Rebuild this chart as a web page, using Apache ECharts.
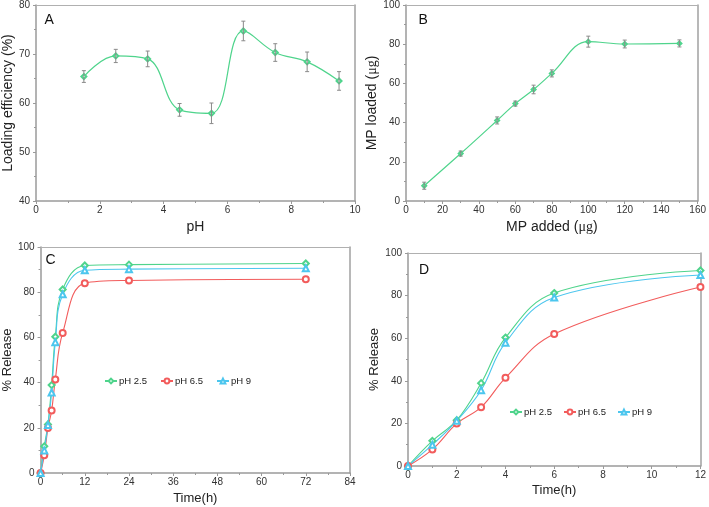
<!DOCTYPE html>
<html>
<head>
<meta charset="utf-8">
<script src="https://cdn.jsdelivr.net/npm/echarts@6/dist/echarts.min.js"></script>
<style>html,body{margin:0;padding:0;background:#fff}#c{width:709px;height:507px}</style>
</head>
<body>
<div id="c"></div>
<script>
// Panel A
var aPH = [1.5, 2.5, 3.5, 4.5, 5.5, 6.5, 7.5, 8.5, 9.5];
var aEff = [65.4, 69.6, 69.0, 58.6, 57.9, 74.7, 70.3, 68.4, 64.5];
var aErr = [1.2, 1.35, 1.6, 1.3, 2.1, 2.0, 1.8, 2.0, 1.9];
// Panel B
var bAdded = [10, 30, 50, 60, 70, 80, 100, 120, 150];
var bLoaded = [7.8, 24.2, 41.1, 49.7, 56.9, 65.1, 81.3, 80.1, 80.4];
var bErr = [1.8, 1.3, 1.8, 1.3, 2.2, 1.8, 2.8, 2.0, 1.8];
// Panels C & D (release)
var tC = [0, 1, 2, 3, 4, 6, 12, 24, 72];
var rel25 = [0, 11.8, 21.5, 38.9, 60.3, 81.2, 91.8, 92.2, 92.7];
var rel65 = [0, 7.8, 19.9, 27.6, 41.4, 62.0, 84.0, 85.2, 85.7];
var rel9  = [0, 10.0, 21.2, 35.6, 57.9, 79.1, 89.7, 90.2, 90.6];
var seriesNames = ['pH 2.5', 'pH 6.5', 'pH 9'];
var dCount = 7; // points up to 12 h shown in panel D

var GREEN = '#4fd48c', RED = '#f25c5c', CYAN = '#4cc6ee', GRAY = '#8a8a8a', AX = '#9a9a9a';
var FONT = 'Liberation Sans, Arial, sans-serif';

function pairs(xs, ys, n) {
  var out = [];
  var m = n || xs.length;
  for (var i = 0; i < m; i++) out.push([xs[i], ys[i]]);
  return out;
}
function errData(xs, ys, es) {
  var out = [];
  for (var i = 0; i < xs.length; i++) out.push([xs[i], ys[i] - es[i], ys[i] + es[i]]);
  return out;
}
function errRender(params, api) {
  var x = api.value(0);
  var lo = api.coord([x, api.value(1)]);
  var hi = api.coord([x, api.value(2)]);
  var w = 2;
  var st = { stroke: GRAY, lineWidth: 1 };
  return {
    type: 'group',
    children: [
      { type: 'line', shape: { x1: lo[0], y1: lo[1], x2: hi[0], y2: hi[1] }, style: st },
      { type: 'line', shape: { x1: lo[0] - w, y1: lo[1], x2: lo[0] + w, y2: lo[1] }, style: st },
      { type: 'line', shape: { x1: hi[0] - w, y1: hi[1], x2: hi[0] + w, y2: hi[1] }, style: st }
    ]
  };
}

function mkAxis(idx, min, max, interval, name, gap, nameSize, labelMargin) {
  return {
    gridIndex: idx, type: 'value', min: min, max: max, interval: interval,
    name: name, nameLocation: 'middle', nameGap: gap,
    nameTextStyle: { fontFamily: FONT, fontSize: nameSize, color: '#222',
      rich: { s: { fontFamily: 'Liberation Serif, Times New Roman, serif', fontSize: nameSize, color: '#222' } } },
    axisLine: { show: true, onZero: false, lineStyle: { color: AX, width: 1.5 } },
    axisTick: { show: true, inside: false, length: 3, lineStyle: { color: AX } },
    minorTick: { show: true, splitNumber: 2, length: 2, lineStyle: { color: AX } },
    axisLabel: { fontFamily: FONT, fontSize: 10, color: '#333', margin: labelMargin },
    splitLine: { show: false }
  };
}
function topAxis(idx, min, max) {
  return { gridIndex: idx, type: 'value', min: min, max: max, position: 'top',
    axisLine: { show: true, onZero: false, lineStyle: { color: '#b0b0b0' } }, axisTick: { show: false }, axisLabel: { show: false }, splitLine: { show: false } };
}
function rightAxis(idx, min, max) {
  return { gridIndex: idx, type: 'value', min: min, max: max, position: 'right',
    axisLine: { show: true, onZero: false, lineStyle: { color: '#a0a0a0', width: 1.5 } }, axisTick: { show: false }, axisLabel: { show: false }, splitLine: { show: false } };
}

var chart = echarts.init(document.getElementById('c'), null, { renderer: 'canvas' });

var legendText = { fontFamily: FONT, fontSize: 9.5, color: '#222', padding: [0, 0, 0, -3] };

var option = {
  animation: false,
  backgroundColor: '#fff',
  grid: [
    { left: 32, top: 5, width: 323, height: 196 },
    { left: 406, top: 5, width: 292, height: 196 },
    { left: 37, top: 247, width: 313, height: 226 },
    { left: 408, top: 253, width: 295, height: 213 }
  ],
  xAxis: [
    mkAxis(0, 0, 10, 2, 'pH', 19, 14, 4),
    mkAxis(1, 0, 160, 20, 'MP added ({s|μg})', 19.5, 14, 4),
    mkAxis(2, 0, 84, 12, 'Time(h)', 18.5, 13, 4),
    mkAxis(3, 0, 12, 2, 'Time(h)', 17.5, 13, 4),
    topAxis(0, 0, 10), topAxis(1, 0, 160), topAxis(2, 0, 84), topAxis(3, 0, 12)
  ],
  yAxis: [
    mkAxis(0, 40, 80, 10, 'Loading efficiency (%)', 16, 14, 6),
    mkAxis(1, 0, 100, 20, 'MP loaded ({s|μg})', 20, 14, 6),
    mkAxis(2, 0, 100, 20, '% Release', 21, 13, 6),
    mkAxis(3, 0, 100, 20, '% Release', 23.5, 13, 6),
    rightAxis(0, 40, 80), rightAxis(1, 0, 100), rightAxis(2, 0, 100), rightAxis(3, 0, 100)
  ],
  legend: [
    { data: seriesNames, left: 99, top: 371, itemWidth: 12, itemHeight: 6, itemGap: 13,
      textStyle: legendText, selectedMode: false },
    { data: seriesNames, left: 504, top: 402, itemWidth: 12, itemHeight: 6, itemGap: 11,
      textStyle: legendText, selectedMode: false }
  ],
  graphic: [
    { type: 'text', left: 44.5, top: 13, style: { text: 'A', font: '14px ' + FONT, fill: '#111' } },
    { type: 'text', left: 418.5, top: 13, style: { text: 'B', font: '14px ' + FONT, fill: '#111' } },
    { type: 'text', left: 45.5, top: 253, style: { text: 'C', font: '14px ' + FONT, fill: '#111' } },
    { type: 'text', left: 419, top: 263, style: { text: 'D', font: '14px ' + FONT, fill: '#111' } }
  ],
  series: [
    { type: 'line', xAxisIndex: 0, yAxisIndex: 0, data: pairs(aPH, aEff), smooth: 0.4,
      symbol: 'emptyDiamond', symbolSize: 5, lineStyle: { color: GREEN, width: 1.2 }, itemStyle: { color: GREEN, borderWidth: 1 }, z: 3 },
    { type: 'custom', xAxisIndex: 0, yAxisIndex: 0, data: errData(aPH, aEff, aErr), renderItem: errRender, z: 4 },
    { type: 'line', xAxisIndex: 1, yAxisIndex: 1, data: pairs(bAdded, bLoaded), smooth: 0.4,
      symbol: 'emptyDiamond', symbolSize: 4, lineStyle: { color: GREEN, width: 1.2 }, itemStyle: { color: GREEN, borderWidth: 1 }, z: 3 },
    { type: 'custom', xAxisIndex: 1, yAxisIndex: 1, data: errData(bAdded, bLoaded, bErr), renderItem: errRender, z: 4 },

    { name: seriesNames[0], type: 'line', xAxisIndex: 2, yAxisIndex: 2, data: pairs(tC, rel25), smooth: 0.4,
      symbol: 'emptyDiamond', symbolSize: 6, lineStyle: { color: GREEN, width: 1.1 }, itemStyle: { color: GREEN, borderWidth: 1 } },
    { name: seriesNames[1], type: 'line', xAxisIndex: 2, yAxisIndex: 2, data: pairs(tC, rel65), smooth: 0.4,
      symbol: 'emptyCircle', symbolSize: 6, lineStyle: { color: RED, width: 1.1 }, itemStyle: { color: RED, borderWidth: 1 } },
    { name: seriesNames[2], type: 'line', xAxisIndex: 2, yAxisIndex: 2, data: pairs(tC, rel9), smooth: 0.4,
      symbol: 'emptyTriangle', symbolSize: 6, lineStyle: { color: CYAN, width: 1.1 }, itemStyle: { color: CYAN, borderWidth: 1 } },

    { name: seriesNames[0], type: 'line', xAxisIndex: 3, yAxisIndex: 3, data: pairs(tC, rel25, dCount), smooth: 0.4,
      symbol: 'emptyDiamond', symbolSize: 6, lineStyle: { color: GREEN, width: 1.1 }, itemStyle: { color: GREEN, borderWidth: 1 } },
    { name: seriesNames[1], type: 'line', xAxisIndex: 3, yAxisIndex: 3, data: pairs(tC, rel65, dCount), smooth: 0.4,
      symbol: 'emptyCircle', symbolSize: 6, lineStyle: { color: RED, width: 1.1 }, itemStyle: { color: RED, borderWidth: 1 } },
    { name: seriesNames[2], type: 'line', xAxisIndex: 3, yAxisIndex: 3, data: pairs(tC, rel9, dCount), smooth: 0.4,
      symbol: 'emptyTriangle', symbolSize: 6, lineStyle: { color: CYAN, width: 1.1 }, itemStyle: { color: CYAN, borderWidth: 1 } }
  ]
};
chart.setOption(option);
</script>
</body>
</html>
